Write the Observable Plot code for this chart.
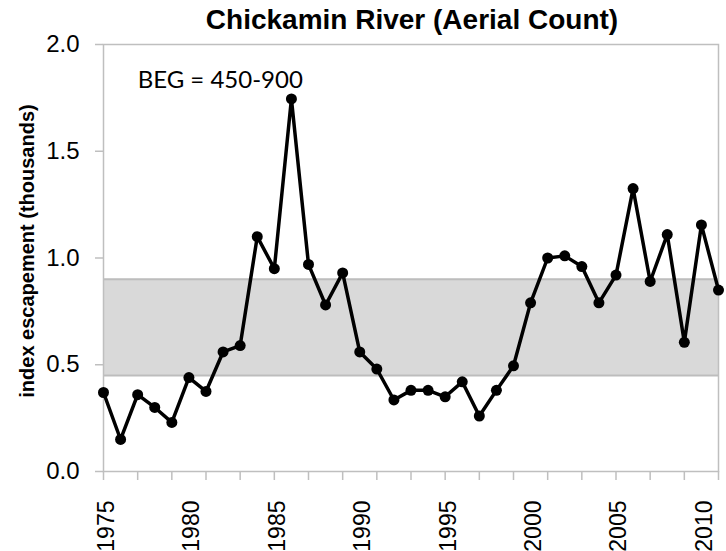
<!DOCTYPE html>
<html>
<head>
<meta charset="utf-8">
<script src="https://cdn.jsdelivr.net/npm/d3@7"></script>
<script src="https://cdn.jsdelivr.net/npm/@observablehq/plot@0.6"></script>
<style>
  html, body { margin: 0; padding: 0; background: #fff; }
  #chart svg { display: block; }
</style>
</head>
<body>
<div id="chart"></div>
<script>
const years = [1975,1976,1977,1978,1979,1980,1981,1982,1983,1984,1985,1986,1987,1988,1989,1990,1991,1992,1993,1994,1995,1996,1997,1998,1999,2000,2001,2002,2003,2004,2005,2006,2007,2008,2009,2010,2011];
const escapement = [0.37,0.15,0.36,0.30,0.23,0.44,0.375,0.56,0.59,1.10,0.95,1.745,0.97,0.78,0.93,0.56,0.48,0.335,0.38,0.38,0.35,0.42,0.26,0.38,0.495,0.79,1.00,1.01,0.96,0.79,0.92,1.325,0.89,1.11,0.605,1.155,0.85];
const begRange = [0.45, 0.9];
const yTicks = [0, 0.5, 1.0, 1.5, 2.0];
const xMinorTicks = [1975,1977,1979,1981,1983,1985,1987,1989,1991,1993,1995,1997,1999,2001,2003,2005,2007,2009,2011];
const xLabelTicks = [1975,1980,1985,1990,1995,2000,2005,2010];
const titleText = "Chickamin River (Aerial Count)";
const yLabelText = "index escapement (thousands)";
const annotations = [{year: 1977, value: 1.83, label: "BEG = 450-900"}];

const data = years.map((y, i) => ({year: y, value: escapement[i]}));

const chart = Plot.plot({
  width: 726,
  height: 551,
  marginLeft: 103,
  marginRight: 8,
  marginTop: 44,
  marginBottom: 80,
  style: {fontFamily: "'Liberation Sans', Arial, sans-serif", background: "#fff", overflow: "visible"},
  x: {domain: [1975, 2011]},
  y: {domain: [0, 2]},
  marks: [
    Plot.rectY([begRange], {y1: d => d[0], y2: d => d[1], fill: "#d9d9d9"}),
    Plot.ruleY(begRange, {stroke: "#bdbdbd", strokeWidth: 2}),
    Plot.frame({stroke: "#bfbfbf", strokeWidth: 1.5}),
    Plot.axisY({ticks: yTicks, tickSize: 8, stroke: "#bfbfbf", strokeWidth: 1.5, tickFormat: () => "", label: null}),
    Plot.axisY({ticks: yTicks, tickSize: 0, tickPadding: 24, tickFormat: d3.format(".1f"), fontSize: 24, fill: "#000", label: null}),
    Plot.axisX({ticks: xMinorTicks, tickSize: 9, stroke: "#bfbfbf", strokeWidth: 1.5, tickFormat: () => "", label: null}),
    Plot.axisX({ticks: xLabelTicks, tickSize: 0, tickPadding: 29, tickRotate: -90, dx: 3, tickFormat: d => String(d), fontSize: 23, fill: "#000", label: null}),
    Plot.line(data, {x: "year", y: "value", stroke: "#000", strokeWidth: 3.5}),
    Plot.dot(data, {x: "year", y: "value", r: 5.5, fill: "#000"}),
    Plot.text(annotations, {x: "year", y: "value", text: "label", textAnchor: "start", fontSize: 24, fontFamily: "Lato, 'Open Sans', sans-serif", fill: "#000"}),
    Plot.text([titleText], {frameAnchor: "top", lineAnchor: "top", dx: 1, dy: -35, fontSize: 28, fontWeight: "bold", fill: "#000"}),
    Plot.text([yLabelText], {frameAnchor: "left", textAnchor: "middle", rotate: -90, dx: -76, dy: -7, fontSize: 20, fontWeight: "bold", fill: "#000"})
  ]
});
document.getElementById("chart").appendChild(chart);
</script>
</body>
</html>
